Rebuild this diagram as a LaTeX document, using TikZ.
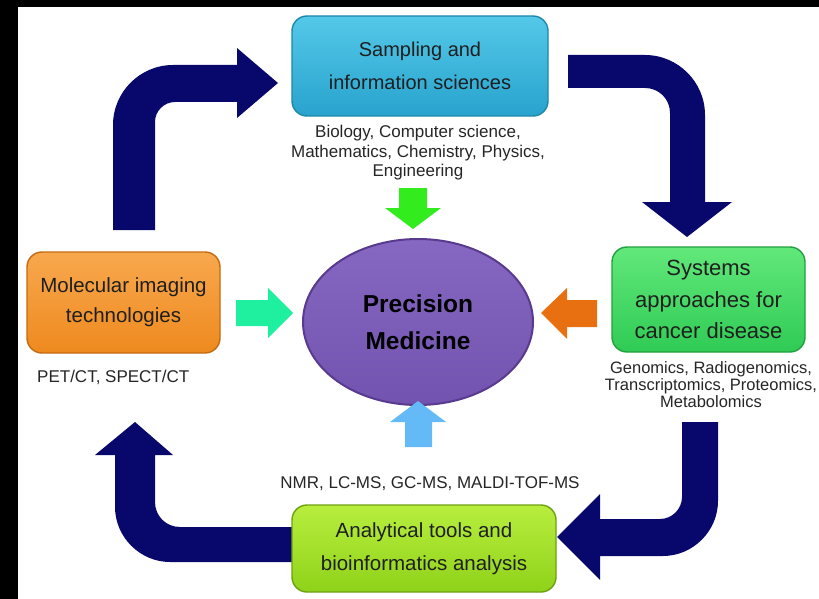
\documentclass[tikz,border=0pt]{standalone}
\usepackage{fontspec}
\setmainfont{Liberation Sans}
\usetikzlibrary{shapes.geometric}
\begin{document}
\begin{tikzpicture}[x=1pt,y=-1pt,
  boxbase/.style={rounded corners=15pt, line width=1.4pt, minimum width=#1, inner sep=2pt, align=center, text=black!88},
  ann/.style={font=\fontsize{17}{19.5}\selectfont, align=center, text=black!85, inner sep=0pt},
]
\definecolor{navyc}{RGB}{8,8,108}
\definecolor{cyanD}{RGB}{30,135,170}\definecolor{cyanT}{RGB}{84,200,232}\definecolor{cyanB}{RGB}{40,163,206}
\definecolor{orD}{RGB}{196,106,18}\definecolor{orT}{RGB}{248,168,78}\definecolor{orB}{RGB}{238,138,30}
\definecolor{grD}{RGB}{34,160,64}\definecolor{grT}{RGB}{98,232,122}\definecolor{grB}{RGB}{47,203,85}
\definecolor{ylD}{RGB}{111,160,16}\definecolor{ylT}{RGB}{184,238,62}\definecolor{ylB}{RGB}{143,210,26}
\definecolor{puD}{RGB}{88,58,142}\definecolor{puT}{RGB}{134,104,194}\definecolor{puB}{RGB}{114,84,176}
\definecolor{arG}{RGB}{50,236,30}\definecolor{arC}{RGB}{30,240,160}\definecolor{arO}{RGB}{232,112,16}\definecolor{arB}{RGB}{100,186,246}
\useasboundingbox (0,0) rectangle (819,599);
\fill[white] (0,0) rectangle (819,599);
\fill[black] (0,0) rectangle (18,599);
\fill[black] (0,0) rectangle (819,7);

% big navy arrows
\fill[navyc] (113,230) -- (113,125) .. controls (113,92) and (140,65) .. (173,65) -- (237,65) -- (237,48) -- (278,83) -- (237,118) -- (237,102) -- (175,102) .. controls (164,102) and (155,111) .. (155,122) -- (155,230) -- cycle;
\fill[navyc] (568,55) -- (645,55) .. controls (678,55) and (705,82) .. (705,115) -- (705,202) -- (732,202) -- (687,237) -- (642,202) -- (670,202) -- (670,113) .. controls (670,99) and (659,88) .. (645,88) -- (568,88) -- cycle;
\fill[navyc] (682,422) -- (718,422) -- (718,501) .. controls (718,531) and (693,556) .. (663,556) -- (600,556) -- (600,580) -- (557,537) -- (600,494) -- (600,519) -- (660,519) .. controls (672,519) and (682,509) .. (682,497) -- cycle;
\fill[navyc] (300,527) -- (300,562) -- (170,562) .. controls (140,562) and (115,537) .. (115,507) -- (115,455) -- (95,455) -- (135,422) -- (173,455) -- (155,455) -- (155,502) .. controls (155,516) and (166,527) .. (180,527) -- cycle;

% boxes
\node[boxbase=256pt, minimum height=100pt, draw=cyanD, top color=cyanT, bottom color=cyanB, font=\fontsize{20}{33}\selectfont] (samp) at (420,66) {Sampling and\\information sciences};
\node[boxbase=193pt, minimum height=101pt, draw=orD, top color=orT, bottom color=orB, font=\fontsize{20.5}{30}\selectfont] (mol) at (123.5,302.5) {Molecular imaging\\technologies};
\node[boxbase=193pt, minimum height=105pt, draw=grD, top color=grT, bottom color=grB, font=\fontsize{22}{31.5}\selectfont] (sys) at (708.5,299.5) {Systems\\approaches for\\cancer disease};
\node[boxbase=264pt, minimum height=87pt, draw=ylD, top color=ylT, bottom color=ylB, font=\fontsize{20.5}{33}\selectfont] (ana) at (424,548.5) {Analytical tools and\\bioinformatics analysis};

% center ellipse
\node[ellipse, minimum width=230pt, minimum height=166pt, draw=puD, line width=2pt, top color=puT, bottom color=puB, font=\bfseries\fontsize{24.5}{37}\selectfont, align=center, text=black] (pm) at (418,322) {Precision\\Medicine};

% annotations
\node[ann] (annS) at (418,153) {Biology, Computer science,\\Mathematics, Chemistry, Physics,\\Engineering};
\node[ann, anchor=west] (annM) at (37,377) {PET/CT, SPECT/CT};
\node[ann, font=\fontsize{16.5}{17}\selectfont] (annY) at (711,385) {Genomics, Radiogenomics,\\Transcriptomics, Proteomics,\\Metabolomics};
\node[ann] (annA) at (430,484) {NMR, LC-MS, GC-MS, MALDI-TOF-MS};

% small arrows
\fill[arG] (399,188) -- (427,188) -- (427,208) -- (441,208) -- (413,229) -- (385,208) -- (399,208) -- cycle;
\fill[arC] (236,300) -- (268,300) -- (268,288) -- (293,313) -- (268,338) -- (268,326) -- (236,326) -- cycle;
\fill[arO] (597,300) -- (567,300) -- (567,288) -- (541,313) -- (567,339) -- (567,327) -- (597,327) -- cycle;
\fill[arB] (405,447) -- (432,447) -- (432,422) -- (446,422) -- (418,401) -- (390,422) -- (405,422) -- cycle;
\end{tikzpicture}
\end{document}
